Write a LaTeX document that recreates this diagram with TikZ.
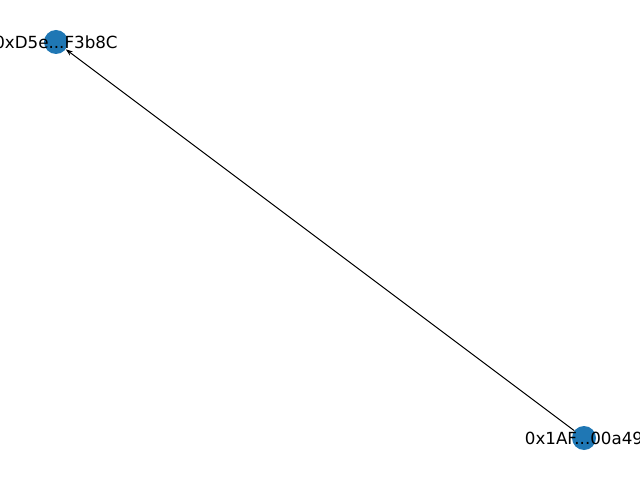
\documentclass[tikz,border=0pt]{standalone}
\usepackage{fontspec}
\setmainfont{DejaVu Sans}
\usetikzlibrary{arrows.meta}
\definecolor{nodeblue}{HTML}{1F77B4}
\begin{document}
\begin{tikzpicture}[x=1bp,y=-1bp,
  dot/.style={circle,fill=nodeblue,draw=none,minimum size=24bp,inner sep=0pt},
  lbl/.style={font=\fontsize{16.7bp}{20bp}\selectfont,text=black,inner sep=0pt},
  edge/.style={draw=black,line width=1bp,-{Stealth[length=7bp,width=5bp]}}]
\useasboundingbox[clip] (0,0) rectangle (640,480);
\node[dot] (a) at (56,42) {};
\node[dot] (b) at (584,438) {};
\draw[edge] (b) -- (a);
\node[lbl] (la) at (a.center) {0xD5e...F3b8C};
\node[lbl] (lb) at (b.center) {0x1AF...00a49};
\end{tikzpicture}
\end{document}
